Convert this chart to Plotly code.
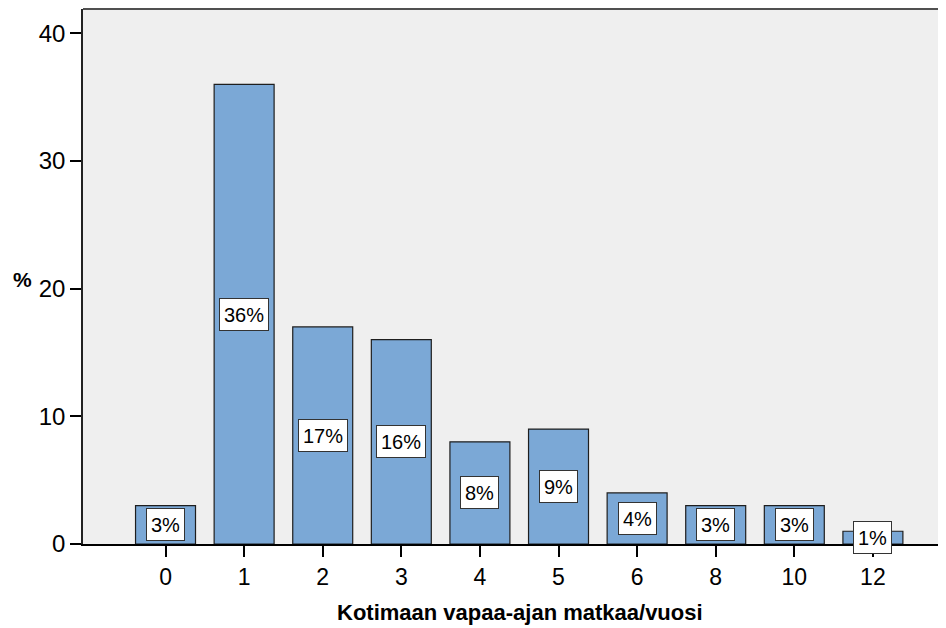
import plotly.graph_objects as go

categories = ["0", "1", "2", "3", "4", "5", "6", "8", "10", "12"]
percent = [3, 36, 17, 16, 8, 9, 4, 3, 3, 1]
labels = ["3%", "36%", "17%", "16%", "8%", "9%", "4%", "3%", "3%", "1%"]
y_ticks = [0, 10, 20, 30, 40]

# page offset (body margin) compensation
OFF = 8
W, H = 946 - OFF, 628 - OFF
PL, PR, PT, PB = 83, 946, 9, 544  # plot area in page pixels
L, R, T, B = PL - OFF, 946 - PR, PT - OFF, 628 - PB
FONT = "Arial, Liberation Sans, sans-serif"

xpos = list(range(len(categories)))

fig = go.Figure()
fig.add_trace(go.Bar(
    x=xpos, y=percent, width=0.763,
    marker=dict(color="#7BA8D6", line=dict(color="#1e1e1e", width=1.2)),
    hoverinfo="skip",
))

annotations = []
for xi, v, lab in zip(xpos, percent, labels):
    annotations.append(dict(
        x=xi, y=v / 2, xref="x", yref="y", text=lab, showarrow=False,
        font=dict(family=FONT, size=20, color="black"),
        bgcolor="white", bordercolor="#333333", borderwidth=1, borderpad=4,
        height=23, valign="middle",
        xanchor="center", yanchor="middle",
    ))

pw = PR - PL
ph = PB - PT
annotations.append(dict(
    x=(520 - PL) / pw, y=(PB - 612) / ph, xref="paper", yref="paper",
    text="<b>Kotimaan vapaa-ajan matkaa/vuosi</b>", showarrow=False,
    font=dict(family=FONT, size=22, color="black"),
    xanchor="center", yanchor="middle",
))
annotations.append(dict(
    x=(22 - PL) / pw, y=(PB - 279) / ph, xref="paper", yref="paper",
    text="<b>%</b>", showarrow=False,
    font=dict(family=FONT, size=21, color="black"),
    xanchor="center", yanchor="middle",
))

fig.update_layout(
    width=W, height=H,
    margin=dict(l=L, r=R, t=T, b=B, pad=0),
    paper_bgcolor="white", plot_bgcolor="#EFEFEF",
    showlegend=False,
    annotations=annotations,
    shapes=[
        dict(type="line", xref="paper", yref="paper", x0=0, x1=1, y0=1, y1=1,
             line=dict(color="#505050", width=2)),
    ],
    font=dict(family=FONT, color="black"),
)
fig.update_xaxes(
    range=[-1.05, 9.93], tickvals=xpos, ticktext=categories,
    tickfont=dict(family=FONT, size=23, color="black"),
    ticks="outside", ticklen=11, tickwidth=2, tickcolor="black",
    showgrid=False, zeroline=False,
    showline=True, linecolor="black", linewidth=2,
)
fig.update_yaxes(
    range=[0, 41.9], tickvals=y_ticks,
    tickfont=dict(family=FONT, size=24, color="black"),
    ticks="outside", ticklen=11, tickwidth=2, tickcolor="black",
    showgrid=False, zeroline=False,
    showline=True, linecolor="#222222", linewidth=1.5,
)

fig.write_html("out.html")
